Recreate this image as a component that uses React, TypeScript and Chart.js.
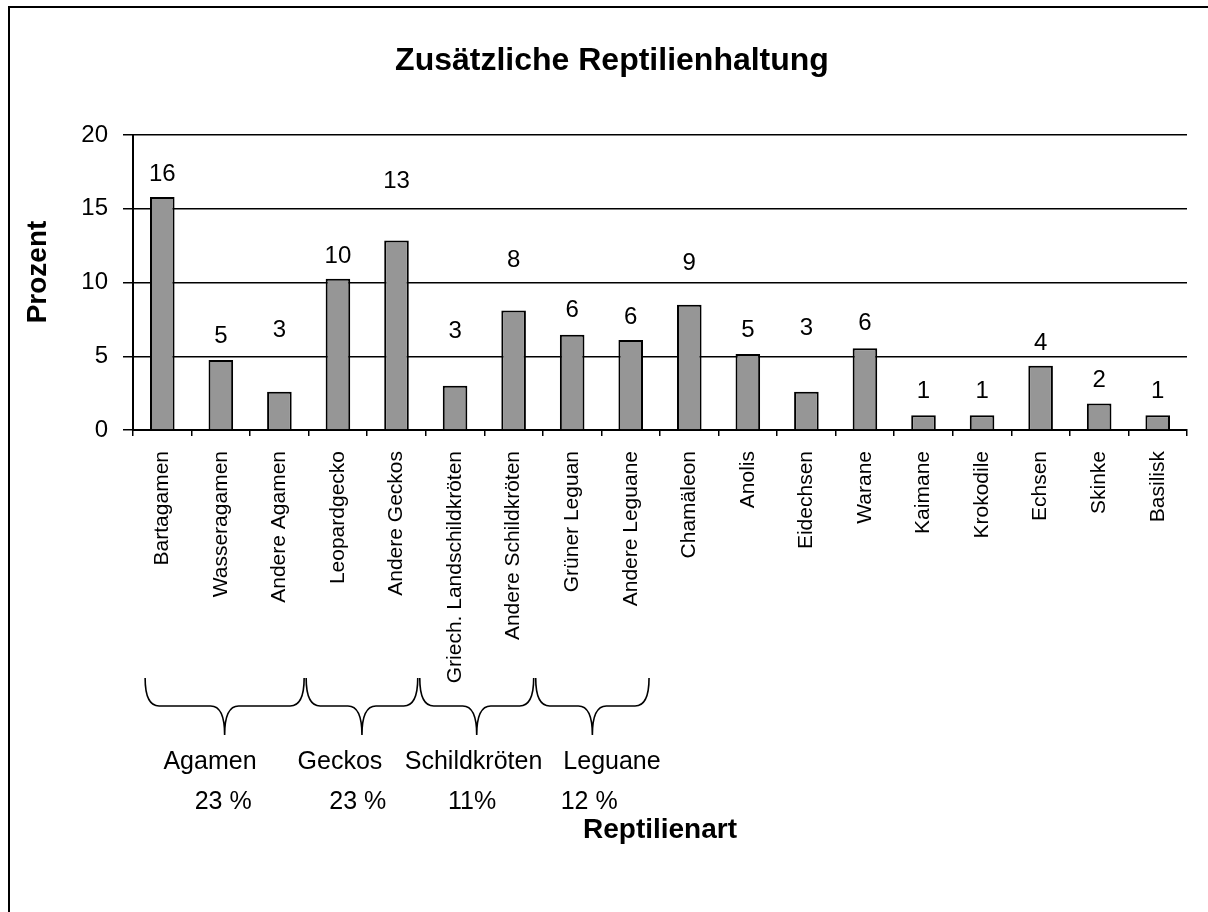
import React, { useEffect, useRef } from "react";
import { Chart, registerables } from "chart.js";

Chart.register(...registerables);

const chartTitle = "Zusätzliche Reptilienhaltung";
const yAxisTitle = "Prozent";
const xAxisTitle = "Reptilienart";

const categories = [
  "Bartagamen",
  "Wasseragamen",
  "Andere Agamen",
  "Leopardgecko",
  "Andere Geckos",
  "Griech. Landschildkröten",
  "Andere Schildkröten",
  "Grüner Leguan",
  "Andere Leguane",
  "Chamäleon",
  "Anolis",
  "Eidechsen",
  "Warane",
  "Kaimane",
  "Krokodile",
  "Echsen",
  "Skinke",
  "Basilisk",
];

const values = [15.8, 4.75, 2.6, 10.25, 12.85, 3.0, 8.1, 6.45, 6.1, 8.5, 5.15, 2.6, 5.55, 1.0, 1.0, 4.35, 1.8, 1.0];

// value-axis level at which each data label sits (as placed in the original)
const labelLevels = [17.36, 6.37, 6.75, 11.8, 16.83, 6.66, 11.5, 8.1, 7.66, 11.3, 6.78, 6.9, 7.23, 2.6, 2.6, 5.88, 3.39, 2.6];

const yMin = 0;
const yMax = 20;
const yStep = 5;

const groupNames = ["Agamen", "Geckos", "Schildkröten", "Leguane"];
const groupShares = ["23 %", "23 %", "11%", "12 %"];
// brace boundaries and text centres, in category-index units
const groupBounds = [-0.31, 2.44, 4.38, 6.36, 8.33];
const groupNamePos = [0.815, 3.035, 5.316, 7.68];
const groupSharePos = [1.04, 3.34, 5.29, 7.29];

const FONT = '"Liberation Sans", Arial, sans-serif';

const decorPlugin = {
  id: "decor",
  beforeDraw(chart: any) {
    const ctx = chart.ctx;
    ctx.save();
    ctx.fillStyle = "#ffffff";
    ctx.fillRect(0, 0, chart.width, chart.height);
    ctx.strokeStyle = "#000";
    ctx.lineWidth = 2;
    ctx.beginPath();
    ctx.moveTo(9, chart.height);
    ctx.lineTo(9, 7);
    ctx.lineTo(chart.width, 7);
    ctx.stroke();
    ctx.restore();
  },
  afterDraw(chart: any) {
    const ctx = chart.ctx;
    const xs = chart.scales.x;
    const ys = chart.scales.y;
    ctx.save();
    ctx.fillStyle = "#000";
    // title
    ctx.font = `bold 32px ${FONT}`;
    ctx.textAlign = "center";
    ctx.textBaseline = "alphabetic";
    ctx.fillText(chartTitle, 612, 70);
    // y axis title
    ctx.save();
    ctx.translate(38, 272);
    ctx.rotate(-Math.PI / 2);
    ctx.font = `bold 28px ${FONT}`;
    ctx.textBaseline = "middle";
    ctx.fillText(yAxisTitle, 0, 0);
    ctx.restore();
    // data labels
    ctx.font = `24px ${FONT}`;
    ctx.textBaseline = "middle";
    const meta = chart.getDatasetMeta(0);
    meta.data.forEach((bar: any, i: number) => {
      ctx.fillText(String(Math.round(values[i])), bar.x, ys.getPixelForValue(labelLevels[i]));
    });
    // braces
    const p0 = xs.getPixelForValue(0);
    const step = xs.getPixelForValue(1) - p0;
    const px = (v: number) => p0 + v * step;
    const yTop = 678;
    const yMid = 706;
    const yTip = 735;
    const r = 14;
    ctx.strokeStyle = "#000";
    ctx.lineWidth = 1.6;
    for (let g = 0; g < groupNames.length; g++) {
      const x0 = px(groupBounds[g]) + 1;
      const x1 = px(groupBounds[g + 1]) - 1;
      const xt = (x0 + x1) / 2;
      ctx.beginPath();
      ctx.moveTo(x0, yTop);
      ctx.quadraticCurveTo(x0, yMid, x0 + r, yMid);
      ctx.lineTo(xt - r, yMid);
      ctx.quadraticCurveTo(xt, yMid, xt, yTip);
      ctx.moveTo(xt, yTip);
      ctx.quadraticCurveTo(xt, yMid, xt + r, yMid);
      ctx.lineTo(x1 - r, yMid);
      ctx.quadraticCurveTo(x1, yMid, x1, yTop);
      ctx.stroke();
    }
    ctx.font = `25px ${FONT}`;
    ctx.textBaseline = "alphabetic";
    for (let g = 0; g < groupNames.length; g++) {
      ctx.fillText(groupNames[g], px(groupNamePos[g]), 769);
      ctx.fillText(groupShares[g], px(groupSharePos[g]), 809);
    }
    ctx.restore();
  },
};

export default function App() {
  const canvasRef = useRef<HTMLCanvasElement | null>(null);

  useEffect(() => {
    if (!canvasRef.current) return;
    const chart = new Chart(canvasRef.current, {
      type: "bar",
      data: {
        labels: categories,
        datasets: [
          {
            data: values,
            backgroundColor: "#969696",
            borderColor: "#000",
            borderWidth: 2,
            categoryPercentage: 1,
            barPercentage: 0.42,
          },
        ],
      },
      options: {
        responsive: false,
        devicePixelRatio: 1,
        animation: false,
        layout: { padding: { left: 0, top: 135, right: 21, bottom: 62 } },
        plugins: {
          legend: { display: false },
          title: { display: false },
          tooltip: { enabled: false },
        },
        scales: {
          x: {
            type: "category",
            offset: true,
            grid: {
              offset: true,
              drawOnChartArea: false,
              drawTicks: true,
              tickLength: 6,
              color: "#000",
              lineWidth: 1.5,
            },
            border: { display: true, color: "#000", width: 2 },
            ticks: {
              autoSkip: false,
              maxRotation: 90,
              minRotation: 90,
              color: "#000",
              padding: 15,
              font: { family: FONT, size: 21 },
            },
            title: {
              display: true,
              text: xAxisTitle,
              color: "#000",
              font: { family: FONT, size: 28, weight: "bold" },
              padding: { top: 0, bottom: 3 },
            },
            afterFit: (scale: any) => {
              scale.height = 420;
            },
          },
          y: {
            min: yMin,
            max: yMax,
            ticks: {
              stepSize: yStep,
              color: "#000",
              padding: 15,
              font: { family: FONT, size: 24 },
            },
            grid: {
              color: "#000",
              lineWidth: 1.5,
              drawTicks: true,
              tickLength: 10,
            },
            border: { display: true, color: "#000", width: 2 },
            afterFit: (scale: any) => {
              scale.width = 133;
            },
          },
        },
      } as any,
      plugins: [decorPlugin],
    });
    return () => chart.destroy();
  }, []);

  return (
    <div style={{ position: "fixed", left: 0, top: 0, width: 1208, height: 912, background: "#fff" }}>
      <canvas ref={canvasRef} width={1208} height={912} style={{ display: "block" }} />
    </div>
  );
}
